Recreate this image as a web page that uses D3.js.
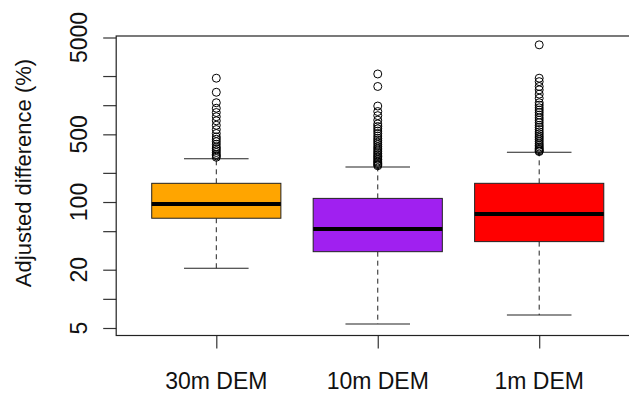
<!DOCTYPE html>
<html>
<head>
<meta charset="utf-8">
<script src="https://cdn.jsdelivr.net/npm/d3@7"></script>
<style>
    body { margin: 0; background: #fff; }
    svg { display: block; font-family: "Liberation Sans", Arial, sans-serif; }
    .frame { fill: none; stroke: #222; stroke-width: 1.2; }
    .tick line { stroke: #333; stroke-width: 1.2; }
    .box { stroke: #222; stroke-width: 1; }
    .median { stroke: #000; stroke-width: 4; }
    .whisker { stroke: #222; stroke-width: 1; stroke-dasharray: 5, 4; }
    .cap { stroke: #222; stroke-width: 1.1; }
    .outlier { fill: none; stroke: #000; stroke-width: 1; }
    .label { font-size: 23px; fill: #111; }
    .title { font-size: 22px; fill: #111; }
</style>
</head>
<body>
<svg width="629" height="397"></svg>
<script>
// Box statistics (adjusted difference, %)
var categories = ["30m DEM", "10m DEM", "1m DEM"];
var boxColors = ["#FFA500", "#A020F0", "#FF0000"];
var lowerWhisker = [20.7, 5.5, 6.8];
var q1 = [68, 30.7, 39];
var median = [95.5, 52.7, 75];
var q3 = [156, 109, 156];
var upperWhisker = [280, 230, 327];

// Outliers above the upper whisker
var outliers30m = [1900, 1360, 1060, 930, 840, 760, 690, 620, 560, 510, 470, 445, 420,
    395, 370, 355, 340, 325, 310, 300, 290];
var outliers10m = [2100, 1560, 980, 860, 780, 700, 640, 600, 570, 540, 510, 480, 455, 435,
    415, 395, 375, 360, 345, 330, 318, 305, 295, 285, 275, 265, 258, 250, 243, 237];
var outliers1m = [4200, 1900, 1750, 1560, 1440, 1300, 1180, 1060, 1000, 940, 890, 840, 790,
    740, 700, 660, 620, 590, 560, 530, 505, 480, 460, 440, 420, 400, 385, 370, 358, 347, 338, 332];
var outliers = [outliers30m, outliers10m, outliers1m];

// Axis ticks
var yTicks = [5, 10, 20, 50, 100, 200, 500, 1000, 2000, 5000];
var yTickLabels = [5, 20, 100, 500, 5000];
var yTitle = "Adjusted difference (%)";

// SVG settings
var svg = d3.select("svg"),
    frameTop = 36,
    frameBottom = 335.5;

var xScale = d3.scalePoint().domain(categories).range([216.3, 539.2]),
    yScale = d3.scaleLog().domain([5, 5000]).range([328, 37.5]);

var step = xScale.step(),
    boxW = 0.8 * step,
    capW = boxW / 2,
    frameLeft = xScale(categories[0]) - 0.62 * step,
    frameRight = xScale(categories[categories.length - 1]) + 0.62 * step;

var stats = categories.map(function (c, i) {
    return {
        cat: c, color: boxColors[i], lo: lowerWhisker[i], q1: q1[i],
        med: median[i], q3: q3[i], hi: upperWhisker[i], out: outliers[i]
    };
});

// Y axis (ticks only; labels drawn rotated like R)
var yAxis = svg.append("g")
    .attr("transform", "translate(" + frameLeft + ",0)")
    .call(d3.axisLeft(yScale).tickValues(yTicks).tickSize(13).tickFormat(""));
yAxis.select(".domain").remove();

svg.selectAll(".ylab")
    .data(yTickLabels)
    .enter()
    .append("text")
    .attr("class", "label ylab")
    .attr("text-anchor", "middle")
    .attr("transform", function (d) { return "translate(86.5," + yScale(d) + ") rotate(-90)"; })
    .text(function (d) { return d; });

svg.append("text")
    .attr("class", "title")
    .attr("text-anchor", "middle")
    .attr("transform", "translate(31,173) rotate(-90)")
    .text(yTitle);

// X axis
var xAxis = svg.append("g")
    .attr("transform", "translate(0," + frameBottom + ")")
    .call(d3.axisBottom(xScale).tickSize(13).tickFormat(""));
xAxis.select(".domain").remove();

svg.selectAll(".xlab")
    .data(categories)
    .enter()
    .append("text")
    .attr("class", "label xlab")
    .attr("text-anchor", "middle")
    .attr("x", function (d) { return xScale(d); })
    .attr("y", 389)
    .text(function (d) { return d; });

// Boxes
var g = svg.selectAll(".bx")
    .data(stats)
    .enter()
    .append("g")
    .attr("class", "bx");

// whiskers (dashed)
g.append("line")
    .attr("class", "whisker")
    .attr("x1", function (d) { return xScale(d.cat); })
    .attr("x2", function (d) { return xScale(d.cat); })
    .attr("y1", function (d) { return yScale(d.q3); })
    .attr("y2", function (d) { return yScale(d.hi); });
g.append("line")
    .attr("class", "whisker")
    .attr("x1", function (d) { return xScale(d.cat); })
    .attr("x2", function (d) { return xScale(d.cat); })
    .attr("y1", function (d) { return yScale(d.q1); })
    .attr("y2", function (d) { return yScale(d.lo); });

// caps
["hi", "lo"].forEach(function (k) {
    g.append("line")
        .attr("class", "cap")
        .attr("x1", function (d) { return xScale(d.cat) - capW / 2; })
        .attr("x2", function (d) { return xScale(d.cat) + capW / 2; })
        .attr("y1", function (d) { return yScale(d[k]); })
        .attr("y2", function (d) { return yScale(d[k]); });
});

g.append("rect")
    .attr("class", "box")
    .attr("x", function (d) { return xScale(d.cat) - boxW / 2; })
    .attr("y", function (d) { return yScale(d.q3); })
    .attr("width", boxW)
    .attr("height", function (d) { return yScale(d.q1) - yScale(d.q3); })
    .attr("fill", function (d) { return d.color; });

g.append("line")
    .attr("class", "median")
    .attr("x1", function (d) { return xScale(d.cat) - boxW / 2; })
    .attr("x2", function (d) { return xScale(d.cat) + boxW / 2; })
    .attr("y1", function (d) { return yScale(d.med); })
    .attr("y2", function (d) { return yScale(d.med); });

// outliers
g.each(function (d) {
    d3.select(this).selectAll("circle")
        .data(d.out)
        .enter()
        .append("circle")
        .attr("class", "outlier")
        .attr("cx", xScale(d.cat))
        .attr("cy", function (v) { return yScale(v); })
        .attr("r", 4);
});

// Plot frame
svg.append("rect")
    .attr("class", "frame")
    .attr("x", frameLeft)
    .attr("y", frameTop)
    .attr("width", frameRight - frameLeft)
    .attr("height", frameBottom - frameTop);
</script>
</body>
</html>
